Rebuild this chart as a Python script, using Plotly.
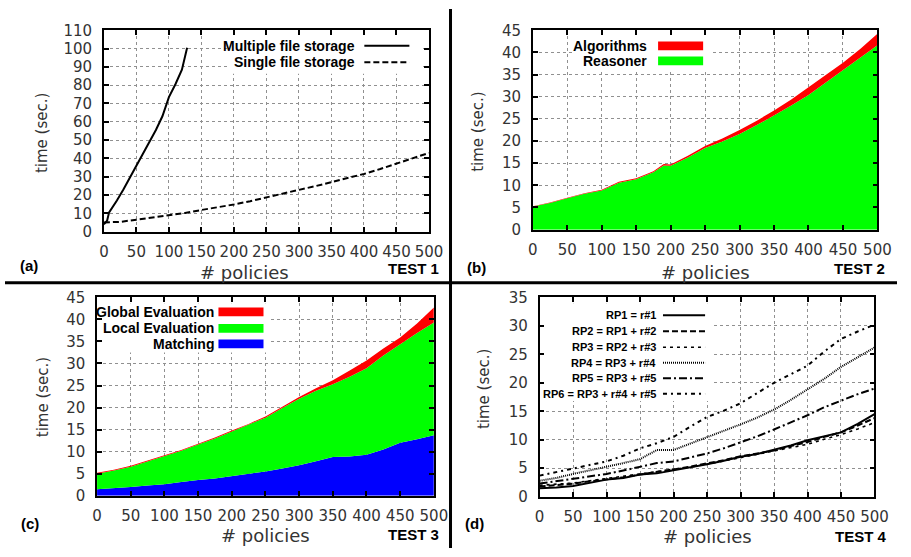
import plotly.graph_objects as go

# ---------------- data ----------------
# (a) TEST 1
policies_multi = [0, 5, 8, 15, 20, 30, 40, 50, 60, 70, 80, 90, 100, 110, 120, 128]
multiple_file = [4, 6, 10.5, 14, 17, 23, 29.5, 36, 42.5, 48.5, 55.5, 63, 73.5, 80.5, 88.5, 100.5]
policies = [0, 25, 50, 75, 100, 125, 150, 175, 200, 225, 250, 275, 300, 325, 350, 375, 400, 425, 450, 475, 500]
single_file = [5.0, 5.3, 6.5, 7.7, 8.9, 10.2, 11.8, 13.2, 14.8, 16.6, 18.8, 20.9, 22.8, 24.8, 26.9, 29.2, 31.5, 34.2, 37.2, 40.0, 43.0]

# (b) TEST 2
policies_b = [0, 25, 50, 75, 100, 125, 150, 175, 190, 200, 225, 250, 275, 300, 325, 350, 375, 400, 425, 450, 475, 500]
reasoner = [5.2, 6.0, 7.1, 8.1, 8.85, 10.6, 11.4, 12.95, 14.5, 14.4, 16.3, 18.4, 19.9, 21.6, 23.6, 25.8, 28.0, 30.4, 33.2, 35.9, 38.7, 41.6]
algorithms = [0.1, 0.1, 0.1, 0.1, 0.15, 0.2, 0.2, 0.25, 0.3, 0.3, 0.4, 0.5, 0.7, 0.9, 1.0, 1.1, 1.4, 1.7, 1.7, 1.8, 2.1, 2.6]

# (c) TEST 3
matching = [1.5, 1.7, 2.0, 2.3, 2.6, 3.1, 3.6, 3.9, 4.4, 5.0, 5.5, 6.2, 6.9, 7.8, 8.8, 8.9, 9.3, 10.5, 12.0, 12.8, 13.7]
local_eval = [3.5, 4.0, 4.6, 5.5, 6.3, 7.1, 8.0, 9.1, 10.2, 11.1, 12.2, 13.7, 15.1, 16.0, 16.5, 18.1, 19.6, 21.3, 22.4, 24.1, 25.6]
global_eval = [0.2, 0.2, 0.2, 0.2, 0.2, 0.2, 0.2, 0.2, 0.2, 0.2, 0.3, 0.3, 0.4, 0.6, 0.9, 1.4, 1.8, 1.6, 1.5, 2.2, 3.4]

# (d) TEST 4
rp1 = [1.5, 1.6, 1.9, 2.5, 3.0, 3.3, 3.9, 4.1, 4.6, 5.2, 5.7, 6.3, 7.0, 7.5, 8.2, 9.0, 9.9, 10.6, 11.3, 12.8, 14.5]
rp2 = [1.8, 2.0, 2.3, 2.7, 3.0, 3.4, 3.9, 4.3, 4.8, 5.3, 5.8, 6.4, 7.1, 7.6, 8.1, 8.9, 9.6, 10.5, 11.3, 12.5, 13.8]
rp3 = [2.0, 2.2, 2.4, 2.8, 3.2, 3.6, 4.0, 4.4, 4.7, 5.2, 5.7, 6.3, 6.9, 7.5, 8.0, 8.6, 9.2, 10.1, 10.9, 11.9, 13.0]
rp4 = [2.8, 3.3, 4.0, 4.6, 5.3, 5.9, 6.6, 8.2, 8.2, 9.3, 10.4, 11.5, 12.7, 13.9, 15.3, 17.0, 18.8, 20.7, 22.8, 24.5, 26.2]
rp5 = [2.3, 2.7, 3.2, 3.6, 4.0, 4.6, 5.2, 5.9, 6.2, 6.9, 7.6, 8.5, 9.5, 10.6, 11.8, 13.0, 14.3, 15.7, 16.9, 18.0, 19.0]
rp6 = [3.7, 4.3, 5.0, 5.5, 6.2, 7.2, 8.5, 9.4, 10.5, 12.3, 14.0, 15.1, 16.4, 18.2, 20.0, 21.5, 23.0, 25.5, 27.7, 29.0, 30.2]

rp_names = ["RP1 = r#1", "RP2 = RP1 + r#2", "RP3 = RP2 + r#3", "RP4 = RP3 + r#4",
            "RP5 = RP3 + r#5", "RP6 = RP3 + r#4 + r#5"]
panel_labels = ["(a)", "(b)", "(c)", "(d)"]
test_labels = ["TEST 1", "TEST 2", "TEST 3", "TEST 4"]
x_title = "# policies"
y_title = "time (sec.)"
y_max = [110, 45, 45, 35]
y_step = [10, 5, 5, 5]

# ---------------- layout helpers ----------------
W, H = 911, 557
def fx(p): return p / W
def fy(p): return 1 - p / H

# plot areas in pixels: (left, right, top, bottom)
areas = [(101, 433, 22, 230), (539, 891, 22, 228), (94, 438, 298, 503), (546, 888, 298, 504)]

RED, GREEN, BLUE = "#ff0000", "#00ff00", "#0000ff"
dashes = ["solid", "6px,3px", "3px,4px", "1px,1px", "8px,3px,2px,3px", "4px,4px,2px,4px"]
widths = [2, 2, 1.6, 2, 2, 2]

fig = go.Figure()

# (a)
fig.add_trace(go.Scatter(x=policies_multi, y=multiple_file, mode="lines", name="Multiple file storage",
                         line=dict(color="black", width=2), xaxis="x", yaxis="y"))
fig.add_trace(go.Scatter(x=policies, y=single_file, mode="lines", name="Single file storage",
                         line=dict(color="black", width=2, dash="6px,3px"), xaxis="x", yaxis="y"))
# (b)
fig.add_trace(go.Scatter(x=policies_b, y=reasoner, mode="lines", name="Reasoner", stackgroup="b",
                         line=dict(width=0, color=GREEN), fillcolor=GREEN, xaxis="x2", yaxis="y2"))
fig.add_trace(go.Scatter(x=policies_b, y=algorithms, mode="lines", name="Algorithms", stackgroup="b",
                         line=dict(width=0, color=RED), fillcolor=RED, xaxis="x2", yaxis="y2"))
# (c)
for vals, nm, col in [(matching, "Matching", BLUE), (local_eval, "Local Evaluation", GREEN),
                      (global_eval, "Global Evaluation", RED)]:
    fig.add_trace(go.Scatter(x=policies, y=vals, mode="lines", name=nm, stackgroup="c",
                             line=dict(width=0, color=col), fillcolor=col, xaxis="x3", yaxis="y3"))
# (d)
for vals, nm, ds, wd in zip([rp1, rp2, rp3, rp4, rp5, rp6], rp_names, dashes, widths):
    fig.add_trace(go.Scatter(x=policies, y=vals, mode="lines", name=nm,
                             line=dict(color="black", width=wd, dash=ds), xaxis="x4", yaxis="y4"))

tickfont = dict(family="DejaVu Sans", size=15, color="#333333")
axis_common = dict(ticks="inside", ticklen=5, tickwidth=1.5, tickcolor="black",
                   showline=True, linecolor="black", linewidth=1.5, mirror="ticks",
                   showgrid=True, gridcolor="#909090", griddash="dot", gridwidth=1,
                   zeroline=False, tickfont=tickfont)

layout_axes = {}
for i, (l, r, t, b) in enumerate(areas):
    sfx = "" if i == 0 else str(i + 1)
    layout_axes["xaxis" + sfx] = dict(axis_common, domain=[fx(l), fx(r)], range=[0, 500], tick0=0, dtick=50,
                                      anchor="y" + sfx, ticklabelstandoff=6)
    layout_axes["yaxis" + sfx] = dict(axis_common, domain=[fy(b), fy(t)], range=[0, y_max[i]], tick0=0,
                                      dtick=y_step[i], anchor="x" + sfx, ticklabelstandoff=7)

annotations = []
def ann(text, x, y, size, bold=False, family="Liberation Sans", angle=0, xanchor="center", color="black"):
    annotations.append(dict(text=("<b>%s</b>" % text) if bold else text, x=fx(x), y=fy(y), xref="paper",
                            yref="paper", showarrow=False, xanchor=xanchor, yanchor="middle",
                            textangle=angle, font=dict(family=family, size=size, color=color)))

# axis titles, panel labels
xt_pos = [(245, 272), (715, 272), (266, 544), (717, 545)]
yt_pos = [(38, 128), (483, 127), (39, 401), (490, 393)]
pl_pos = [(25, 265), (482, 267), (26, 532), (480, 532)]
tl_pos = [(417, 268), (873, 268), (417, 543), (874, 545)]
for i in range(4):
    ann(x_title, *xt_pos[i], 18, family="DejaVu Sans", color="#333333")
    ann(y_title, *yt_pos[i], 15, family="DejaVu Sans", angle=-90, color="#333333")
    ann(panel_labels[i], *pl_pos[i], 15, bold=True)
    ann(test_labels[i], *tl_pos[i], 15, bold=True)

shapes = []
# white key boxes that hide the grid behind the keys (they do not overlap any data)
key_boxes = [(228, 427, 28, 67), (580, 720, 28, 62), (100, 270, 304, 355), (552, 722, 304, 405)]
for (bl, br, bt, bb) in key_boxes:
    shapes.append(dict(type="rect", xref="paper", yref="paper", x0=fx(bl), x1=fx(br),
                       y0=fy(bb), y1=fy(bt), fillcolor="white", line=dict(width=0), layer="above"))

def key_line(x0, x1, y, dash, width):
    shapes.append(dict(type="line", xref="paper", yref="paper", x0=fx(x0), x1=fx(x1), y0=fy(y), y1=fy(y),
                       line=dict(color="black", width=width, dash=dash), layer="above"))

def key_rect(x0, x1, y, color):
    shapes.append(dict(type="rect", xref="paper", yref="paper", x0=fx(x0), x1=fx(x1), y0=fy(y + 4.5),
                       y1=fy(y - 4.5), fillcolor=color, line=dict(width=0), layer="above"))

# (a) key
for nm, y, ds in [("Multiple file storage", 38, "solid"), ("Single file storage", 55, "6px,3px")]:
    ann(nm, 360, y, 14, bold=True, xanchor="right")
    key_line(367, 413, y, ds, 2)
# (b) key
for nm, y, col in [("Algorithms", 38, RED), ("Reasoner", 53.5, GREEN)]:
    ann(nm, 658, y, 14, bold=True, xanchor="right")
    key_rect(667, 713, y, col)
# (c) key
for nm, y, col in [("Global Evaluation", 313, RED), ("Local Evaluation", 330, GREEN), ("Matching", 346, BLUE)]:
    ann(nm, 216, y, 14, bold=True, xanchor="right")
    key_rect(218, 264, y, col)
# (d) key
rows_d = [316.5, 333, 349.5, 365.5, 381.5, 397.5]
for nm, y, ds, wd in zip(rp_names, rows_d, dashes, widths):
    ann(nm, 667, y, 11, bold=True, xanchor="right")
    key_line(672, 715, y, ds, wd)

# panel dividers
shapes.append(dict(type="line", xref="paper", yref="paper", x0=fx(455), x1=fx(455), y0=0, y1=1,
                   line=dict(color="black", width=3), layer="above"))
shapes.append(dict(type="line", xref="paper", yref="paper", x0=0, x1=1, y0=fy(283), y1=fy(283),
                   line=dict(color="black", width=3), layer="above"))

fig.update_layout(width=W, height=H, margin=dict(l=0, r=0, t=0, b=0, pad=0), showlegend=False,
                  paper_bgcolor="white", plot_bgcolor="white",
                  annotations=annotations, shapes=shapes, **layout_axes)

fig.write_html("out.html", config={"displayModeBar": False},
               post_script="document.body.style.margin='0';document.body.style.padding='0';")
